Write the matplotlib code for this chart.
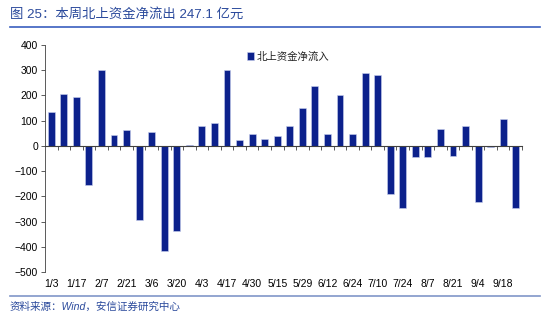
import matplotlib

matplotlib.use("Agg")
import matplotlib.pyplot as plt
from matplotlib.transforms import blended_transform_factory

plt.rcParams["font.family"] = ["Liberation Sans", "Noto Sans CJK SC", "DejaVu Sans"]

# weekly northbound net flow, 100m CNY
weeks = [
    "1/3", "1/10", "1/17", "1/24", "2/7", "2/14", "2/21", "2/28", "3/6", "3/13",
    "3/20", "3/27", "4/3", "4/10", "4/17", "4/24", "4/30", "5/8", "5/15", "5/22",
    "5/29", "6/5", "6/12", "6/19", "6/24", "7/3", "7/10", "7/17", "7/24", "7/31",
    "8/7", "8/14", "8/21", "8/28", "9/4", "9/11", "9/18", "9/25",
]
net_flow = [
    135, 207, 195, -155, 300, 42, 63, -293, 55, -418,
    -338, 3, 80, 90, 300, 22, 48, 27, 38, 78,
    152, 239, 48, 203, 46, 288, 282, -191, -248, -44,
    -45, 66, -42, 78, -223, -6, 107, -247.1,
]
series_name = "北上资金净流入"
title = "图 25：本周北上资金净流出 247.1 亿元"
source = "资料来源：Wind，安信证券研究中心"

BAR = "#0c218c"
BLUE = "#2b4a9c"

fig = plt.figure(figsize=(5.5, 3.22), dpi=100)
ax = fig.add_axes([45 / 550, 1 - 272 / 322, 477 / 550, 227 / 322])

x = list(range(len(weeks)))
ax.bar(x, net_flow, width=0.55, color=BAR, edgecolor="#c8d0ee", linewidth=0.4,
       label=series_name, zorder=2)

ax.set_xlim(-0.5, len(weeks) - 0.5)
ax.set_ylim(-500, 400)
ax.set_yticks(range(-500, 401, 100))
ax.tick_params(axis="y", labelsize=7.5, length=3, width=0.6, color="#404040", pad=2)

for side in ("top", "right"):
    ax.spines[side].set_visible(False)
ax.spines["left"].set_color("#404040")
ax.spines["left"].set_linewidth(0.6)
ax.spines["bottom"].set_position(("data", 0))
ax.spines["bottom"].set_color("#404040")
ax.spines["bottom"].set_linewidth(0.8)

# category boundary ticks on the zero line, labels every other week below the plot
ax.set_xticks([i + 0.5 for i in x])
ax.tick_params(axis="x", length=3, width=0.6, color="#404040", labelbottom=False)
trans = blended_transform_factory(ax.transData, ax.transAxes)
for i in x[::2]:
    ax.text(i, -0.03, weeks[i], transform=trans, ha="center", va="top", fontsize=7.5)

leg = ax.legend(loc="upper left", bbox_to_anchor=(0.41, 1.0), frameon=False,
                fontsize=7.5, handlelength=0.7, handleheight=0.7, handletextpad=0.2,
                borderaxespad=0.2)
for t in leg.get_texts():
    t.set_color("#222222")

fig.text(10 / 550, 1 - 14 / 322, title, fontsize=9.6, color=BLUE, va="center")
fig.add_artist(plt.Line2D([10 / 550, 540 / 550], [1 - 27 / 322] * 2,
                          color="#3a5fbf", linewidth=1.2))
fig.add_artist(plt.Line2D([10 / 550, 540 / 550], [1 - 296 / 322] * 2,
                          color="#8096c8", linewidth=1.2))
fig.text(10 / 550, 1 - 307 / 322, source, fontsize=7.6, color=BLUE, style="italic",
         va="center")

fig.savefig("out.png", dpi=100)
